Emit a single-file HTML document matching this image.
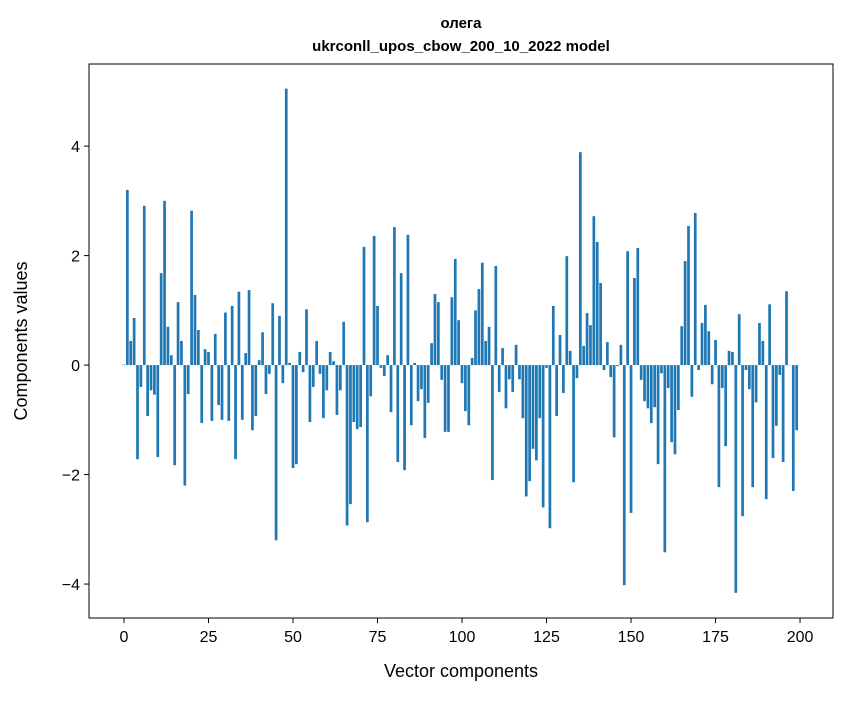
<!DOCTYPE html>
<html><head><meta charset="utf-8"><style>
body{margin:0;background:#fff;}
svg text{font-family:"Liberation Sans","DejaVu Sans",sans-serif;fill:#000;}
</style></head><body>
<svg id="chart" width="847" height="696" xmlns="http://www.w3.org/2000/svg">
<rect width="847" height="696" fill="#fff"/>
<text x="461" y="28" text-anchor="middle" font-size="15" font-weight="bold">олега</text>
<text x="461" y="51" text-anchor="middle" font-size="15" font-weight="bold">ukrconll_upos_cbow_200_10_2022 model</text>
<g id="bars"></g>
<g id="axes"></g>
<rect x="89" y="64" width="744" height="554" fill="none" stroke="#000" stroke-width="1"/>
<text x="461" y="677" text-anchor="middle" font-size="18">Vector components</text>
<text transform="translate(27,341) rotate(-90)" text-anchor="middle" font-size="18">Components values</text>
</svg>
<script>
const values = [0.01,3.2,0.44,0.86,-1.72,-0.4,2.91,-0.93,-0.46,-0.54,
-1.68,1.68,3.0,0.7,0.18,-1.83,1.15,0.44,-2.2,-0.53,
2.82,1.28,0.64,-1.06,0.29,0.24,-1.02,0.57,-0.73,-1.0,
0.96,-1.02,1.08,-1.72,1.34,-1.0,0.22,1.37,-1.19,-0.93,
0.09,0.6,-0.53,-0.16,1.13,-3.2,0.9,-0.33,5.05,0.04,
-1.88,-1.81,0.24,-0.13,1.02,-1.04,-0.4,0.44,-0.16,-0.97,
-0.46,0.24,0.07,-0.91,-0.46,0.79,-2.93,-2.54,-1.04,-1.17,
-1.13,2.16,-2.87,-0.57,2.36,1.08,-0.05,-0.2,0.18,-0.86,
2.52,-1.77,1.68,-1.92,2.38,-1.1,0.04,-0.66,-0.44,-1.33,
-0.69,0.4,1.3,1.15,-0.27,-1.22,-1.22,1.24,1.94,0.82,
-0.33,-0.84,-1.1,0.13,1.0,1.39,1.87,0.44,0.7,-2.1,
1.81,-0.49,0.31,-0.79,-0.26,-0.49,0.37,-0.26,-0.97,-2.4,
-2.12,-1.53,-1.74,-0.97,-2.6,-0.05,-2.98,1.08,-0.93,0.55,
-0.51,1.99,0.26,-2.14,-0.24,3.89,0.35,0.95,0.73,2.72,
2.25,1.5,-0.09,0.42,-0.22,-1.32,-0.02,0.37,-4.02,2.08,
-2.7,1.59,2.14,-0.27,-0.66,-0.79,-1.06,-0.77,-1.81,-0.15,
-3.42,-0.42,-1.41,-1.63,-0.82,0.71,1.9,2.54,-0.58,2.78,
-0.09,0.77,1.1,0.62,-0.35,0.46,-2.23,-0.42,-1.48,0.26,
0.24,-4.16,0.93,-2.76,-0.09,-0.44,-2.23,-0.68,0.77,0.44,
-2.45,1.11,-1.7,-1.11,-0.18,-1.77,1.35,0,-2.3,-1.19];
const xTicks = [0,25,50,75,100,125,150,175,200];
const yTicks = [-4,-2,0,2,4];
const yTickLabels = ["\u22124","\u22122","0","2","4"];

const L=89,R=833,T=64,B=618, XMIN=-10.35, XMAX=209.75, YMIN=-4.62, YMAX=5.5;
const sx = v => L + (v-XMIN)/(XMAX-XMIN)*(R-L);
const sy = v => T + (YMAX-v)/(YMAX-YMIN)*(B-T);
const NS="http://www.w3.org/2000/svg";
const bars=document.getElementById('bars'), axes=document.getElementById('axes');
const bw = (sx(0.8)-sx(0));
values.forEach((v,i)=>{
  const r=document.createElementNS(NS,'rect');
  
  
  const y0=sy(Math.max(v,0)), y1=sy(Math.min(v,0));
  r.setAttribute('x', sx(i)-bw/2); r.setAttribute('width', bw);
  r.setAttribute('y', y0); r.setAttribute('height', Math.max(y1-y0,0.3));
  r.setAttribute('fill', '#1f77b4');
  bars.appendChild(r);
});
xTicks.forEach(t=>{
  const x=sx(t);
  const l=document.createElementNS(NS,'line');
  
  
  l.setAttribute('x1',x);l.setAttribute('x2',x);l.setAttribute('y1',B);l.setAttribute('y2',B+5);l.setAttribute('stroke','#000');
  axes.appendChild(l);
  const tx=document.createElementNS(NS,'text');
  
  
  tx.setAttribute('x',x);tx.setAttribute('y',B+24);tx.setAttribute('text-anchor','middle');tx.setAttribute('font-size','16');
  tx.textContent=t; axes.appendChild(tx);
});
yTicks.forEach((t,i)=>{
  const y=sy(t);
  const l=document.createElementNS(NS,'line');
  
  
  l.setAttribute('x1',L-5);l.setAttribute('x2',L);l.setAttribute('y1',y);l.setAttribute('y2',y);l.setAttribute('stroke','#000');
  axes.appendChild(l);
  const tx=document.createElementNS(NS,'text');
  
  
  tx.setAttribute('x',L-9);tx.setAttribute('y',y+6);tx.setAttribute('text-anchor','end');tx.setAttribute('font-size','16');
  tx.textContent=yTickLabels[i]; axes.appendChild(tx);
});
</script>
</body></html>
